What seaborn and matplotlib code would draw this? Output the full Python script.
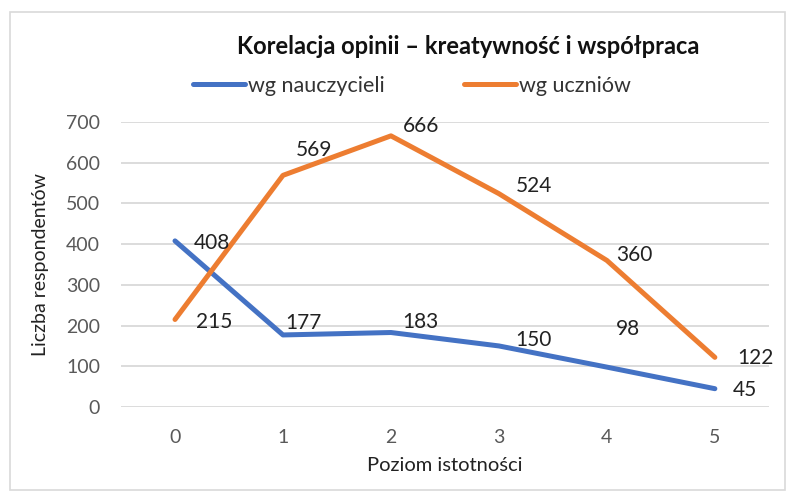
import pandas as pd
import matplotlib.pyplot as plt
import seaborn as sns
from matplotlib.patches import Rectangle

# -----------------------------
# Data
# -----------------------------
levels = [0, 1, 2, 3, 4, 5]
teachers = [408, 177, 183, 150, 98, 45]
students = [215, 569, 666, 524, 360, 122]
series_names = ["wg nauczycieli", "wg uczniów"]
y_ticks = [0, 100, 200, 300, 400, 500, 600, 700]

# label offsets in pixels (dx, dy)
teacher_offsets = [(37, -2), (20, 12), (29, 11), (35, 6), (21, 38), (30, -1)]
student_offsets = [(39, -3), (31, 25), (30, 10), (35, 8), (27, 5), (41, -1)]

colors = {"wg nauczycieli": "#4472C4", "wg uczniów": "#ED7D31"}

df = pd.DataFrame({
    "level": levels * 2,
    "count": teachers + students,
    "series": [series_names[0]] * len(levels) + [series_names[1]] * len(levels),
})

# -----------------------------
# Plot
# -----------------------------
sns.set_style("white")
plt.rcParams["font.family"] = ["Lato", "DejaVu Sans"]

fig = plt.figure(figsize=(7.91, 4.98), dpi=100)
ax = fig.add_axes([0.153, 0.1827, 0.819, 0.5723])

sns.lineplot(data=df, x="level", y="count", hue="series", palette=colors,
             linewidth=3.6, ax=ax, legend=False)

for vals, offs, in [(teachers, teacher_offsets), (students, student_offsets)]:
    for x, v, (dx, dy) in zip(levels, vals, offs):
        ax.annotate(str(v), (x, v), xytext=(dx, dy), textcoords="offset pixels",
                    ha="center", va="center", fontsize=15, color="#222222")

ax.set_xlim(-0.5, 5.5)
ax.set_ylim(0, 700)
ax.set_yticks(y_ticks)
ax.set_xticks(levels)
ax.grid(axis="y", color="#D9D9D9", linewidth=1.3)
ax.grid(axis="x", visible=False)
for s in ax.spines.values():
    s.set_visible(False)
ax.tick_params(axis="both", length=0, labelsize=14, labelcolor="#595959")
ax.tick_params(axis="y", pad=15)
ax.tick_params(axis="x", pad=16)
ax.set_xlabel("Poziom istotności", fontsize=14.5, color="#222222", labelpad=8)
ax.set_ylabel("Liczba respondentów", fontsize=14, color="#222222", labelpad=12)

fig.text(468 / 791, 1 - 47 / 498, "Korelacja opinii – kreatywność i współpraca",
         ha="center", va="center", fontsize=17, fontweight="bold", color="#111111")

# legend drawn manually
handles = [plt.Line2D([], [], color=colors[n], linewidth=3.6) for n in series_names]
fig.legend(handles, series_names, loc="center left", bbox_to_anchor=(193 / 791, 1 - 86 / 498),
           ncol=2, frameon=False, fontsize=15.5, handlelength=2.4, handletextpad=0.15,
           columnspacing=3.7, borderpad=0, borderaxespad=0, labelcolor="#333333")

fig.patches.append(Rectangle((10 / 791, 8 / 498), 775 / 791, 478 / 498,
                             transform=fig.transFigure, fill=False,
                             edgecolor="#D9D9D9", linewidth=1.2))

plt.savefig("out.png", dpi=100)
